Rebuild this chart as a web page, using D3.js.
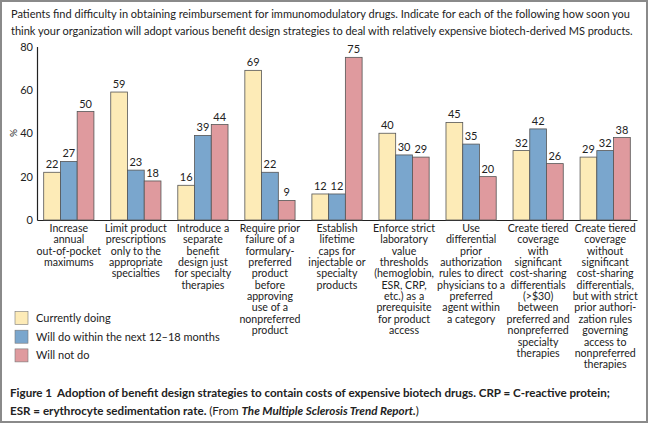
<!DOCTYPE html>
<html><head><meta charset="utf-8">
<script src="https://cdn.jsdelivr.net/npm/d3@7"></script>
<style>
html,body{margin:0;padding:0;background:#fff;}
svg{display:block;font-family:Lato,"Open Sans",sans-serif;}
</style></head>
<body><svg id="c" width="648" height="424"></svg>
<script>
const categories = [
  ["Increase","annual","out-of-pocket","maximums"],
  ["Limit product","prescriptions","only to the","appropriate","specialties"],
  ["Introduce a","separate","benefit","design just","for specialty","therapies"],
  ["Require prior","failure of a","formulary-","preferred","product","before","approving","use of a","nonpreferred","product"],
  ["Establish","lifetime","caps for","injectable or","specialty","products"],
  ["Enforce strict","laboratory","value","thresholds","(hemoglobin,","ESR, CRP,","etc.) as a","prerequisite","for product","access"],
  ["Use","differential","prior","authorization","rules to direct","physicians to a","preferred","agent within","a category"],
  ["Create tiered","coverage","with","significant","cost-sharing","differentials","(>$30)","between","preferred and","nonpreferred","specialty","therapies"],
  ["Create tiered","coverage","without","significant","cost-sharing","differentials,","but with strict","prior authori-","zation rules","governing","access to","nonpreferred","therapies"]
];
const seriesNames = ["Currently doing","Will do within the next 12\u201318 months","Will not do"];
const currentlyDoing = [22,59,16,69,12,40,45,32,29];
const willDo = [27,23,39,22,12,30,35,42,32];
const willNotDo = [50,18,44,9,75,29,20,26,38];
const yTicks = [0,20,40,60,80];
const colors = ["#fdebb7","#7aa6cd","#df9a9e"];
const titleLines = [
  "Patients find difficulty in obtaining reimbursement for immunomodulatory drugs. Indicate for each of the following how soon you",
  "think your organization will adopt various benefit design strategies to deal with relatively expensive biotech-derived MS products."
];

const svg = d3.select("#c");
svg.append("rect").attr("x",1).attr("y",1).attr("width",646).attr("height",421)
  .attr("fill","#fff").attr("stroke","#8a8a8a").attr("stroke-width",2);

function fitText(sel, target, base){
  sel.attr("font-size", base);
  const w = sel.node().getComputedTextLength();
  sel.attr("font-size", base * Math.min(1, target / w));
}

// title
const tl = [{t:titleLines[0],y:18,w:620},{t:titleLines[1],y:35,w:622}];
tl.forEach(d=>{
  const t = svg.append("text").attr("x",11).attr("y",d.y).attr("fill","#222").text(d.t);
  fitText(t, d.w, 12.8);
});

const series = [currentlyDoing, willDo, willNotDo];
const idx = d3.range(categories.length);
const x0 = d3.scaleBand().domain(idx).range([37,637]).paddingInner(0.251).paddingOuter(0.1);
const x1 = d3.scaleBand().domain([0,1,2]).range([0,x0.bandwidth()]);
const y = d3.scaleLinear().domain([0,80]).range([220,46.5]);

// axes
const yAxis = d3.axisLeft(y).tickValues(yTicks).tickSize(0).tickPadding(4);
const ga = svg.append("g").attr("transform","translate(37,0)").call(yAxis);
ga.select(".domain").attr("stroke","#222").attr("stroke-width",1.2);
ga.selectAll("text").attr("font-size",11).attr("font-family","Lato,sans-serif").attr("fill","#222");
const xAxis = d3.axisBottom(x0).tickSize(0).tickFormat("");
const gx = svg.append("g").attr("transform","translate(0,220)").call(xAxis);
gx.select(".domain").attr("stroke","#222").attr("stroke-width",1.2);

svg.append("text").attr("transform","translate(17,133) rotate(-90)").attr("text-anchor","middle")
  .attr("font-size",10).attr("fill","#222").text("%");

// bars
const groups = svg.append("g").selectAll("g").data(idx).join("g")
  .attr("transform",i=>`translate(${x0(i)},0)`);
groups.selectAll("rect").data(i=>series.map((s,k)=>({k,v:s[i]}))).join("rect")
  .attr("x",d=>x1(d.k)).attr("width",x1.bandwidth())
  .attr("y",d=>y(d.v)).attr("height",d=>y(0)-y(d.v))
  .attr("fill",d=>colors[d.k]).attr("stroke","#555").attr("stroke-width",0.8);
groups.selectAll("text.v").data(i=>series.map((s,k)=>({k,v:s[i]}))).join("text").attr("class","v")
  .attr("x",d=>x1(d.k)+x1.bandwidth()/2).attr("y",d=>y(d.v)-4)
  .attr("text-anchor","middle").attr("font-size",11).attr("fill","#222").text(d=>d.v);

// category labels
groups.each(function(i){
  const t = d3.select(this).append("text").attr("text-anchor","middle").attr("font-size",10.6).attr("fill","#222");
  categories[i].forEach((line,j)=>{
    t.append("tspan").attr("x",x0.bandwidth()/2).attr("y",232+j*11.35).text(line);
  });
});

// legend
const lg = svg.append("g");
seriesNames.forEach((n,k)=>{
  const cy = 318 + k*18.7;
  lg.append("rect").attr("x",15).attr("y",cy-6.5).attr("width",13).attr("height",13)
    .attr("fill",colors[k]).attr("stroke","#777").attr("stroke-width",0.6);
  lg.append("text").attr("x",36).attr("y",cy+4).attr("font-size",11).attr("fill","#222").text(n);
});

// caption
const c1 = svg.append("text").attr("x",10).attr("y",397).attr("font-weight","bold").attr("fill","#222");
c1.append("tspan").text("Figure 1");
c1.append("tspan").attr("dx",5).text("Adoption of benefit design strategies to contain costs of expensive biotech drugs. CRP = C-reactive protein;");
fitText(c1, 595, 11.8);
const c2 = svg.append("text").attr("x",10).attr("y",415).attr("fill","#222");
c2.append("tspan").attr("font-weight","bold").text("ESR = erythrocyte sedimentation rate. ");
c2.append("tspan").text("(From ");
c2.append("tspan").attr("font-style","italic").attr("font-weight","bold").text("The Multiple Sclerosis Trend Report.");
c2.append("tspan").text(")");
c2.attr("font-size", c1.attr("font-size"));
</script></body></html>
